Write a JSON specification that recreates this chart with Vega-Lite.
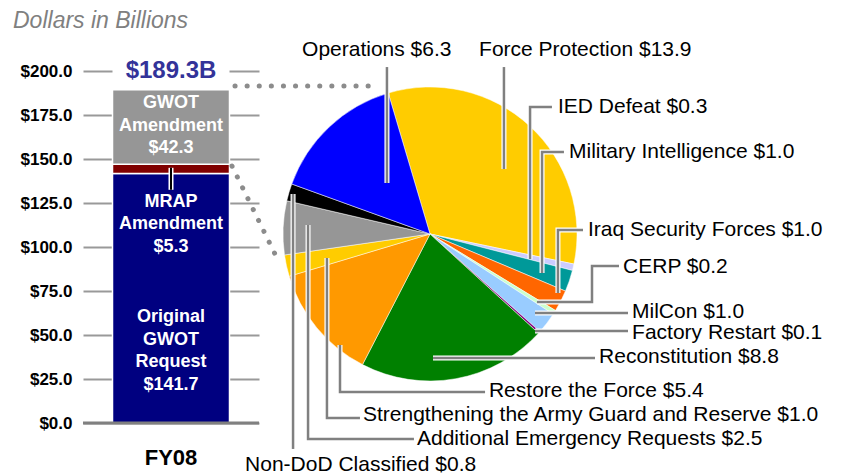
{
  "$schema": "https://vega.github.io/schema/vega-lite/v6.json",
  "padding": {"left": 13, "top": 9, "right": 5, "bottom": 5},
  "bounds": "flush",
  "spacing": 12,
  "background": "white",
  "resolve": {"scale": {"color": "independent"}},
  "config": {
    "font": "Liberation Sans",
    "view": {"stroke": null}
  },
  "title": {
    "text": "Dollars in Billions",
    "anchor": "start",
    "dx": -7,
    "offset": 6,
    "font": "Liberation Sans",
    "fontSize": 23,
    "fontStyle": "italic",
    "fontWeight": "normal",
    "color": "#808080"
  },
  "datasets": {
    "segments": [
      {"period": "FY08", "segment": "Original GWOT Request", "start": 0, "end": 141.7},
      {"period": "FY08", "segment": "MRAP Amendment", "start": 141.7, "end": 147.0},
      {"period": "FY08", "segment": "GWOT Amendment", "start": 147.0, "end": 189.3}
    ],
    "barLabels": [
      {"period": "FY08", "text": "GWOT\nAmendment\n$42.3", "at": 181.8},
      {"period": "FY08", "text": "MRAP\nAmendment\n$5.3", "at": 125.6},
      {"period": "FY08", "text": "Original\nGWOT\nRequest\n$141.7", "at": 60.2}
    ],
    "total": [
      {"period": "FY08", "text": "$189.3B", "at": 200, "maskFrom": 195.5, "maskTo": 204.5}
    ],
    "mrapTick": [
      {"period": "FY08", "from": 145, "to": 132.5}
    ],
    "slices": [
      {"idx": 1, "name": "Force Protection", "value": 13.9},
      {"idx": 2, "name": "IED Defeat", "value": 0.3},
      {"idx": 3, "name": "Military Intelligence", "value": 1.0},
      {"idx": 4, "name": "Iraq Security Forces", "value": 1.0},
      {"idx": 5, "name": "CERP", "value": 0.2},
      {"idx": 6, "name": "MilCon", "value": 1.0},
      {"idx": 7, "name": "Factory Restart", "value": 0.1},
      {"idx": 8, "name": "Reconstitution", "value": 8.8},
      {"idx": 9, "name": "Restore the Force", "value": 5.4},
      {"idx": 10, "name": "Strengthening the Army Guard and Reserve", "value": 1.0},
      {"idx": 11, "name": "Additional Emergency Requests", "value": 2.5},
      {"idx": 12, "name": "Non-DoD Classified", "value": 0.8},
      {"idx": 13, "name": "Operations", "value": 6.3}
    ],
    "pieLabels": [
      {"text": "Operations $6.3", "u": -85.3, "v": 122.7},
      {"text": "Force Protection $13.9", "u": 32.7, "v": 122.7},
      {"text": "IED Defeat $0.3", "u": 85.3, "v": 84.7},
      {"text": "Military Intelligence $1.0", "u": 92.7, "v": 54.7},
      {"text": "Iraq Security Forces $1.0", "u": 105.3, "v": 2.7},
      {"text": "CERP $0.2", "u": 128.7, "v": -22},
      {"text": "MilCon $1.0", "u": 134.7, "v": -52},
      {"text": "Factory Restart $0.1", "u": 134.7, "v": -66},
      {"text": "Reconstitution $8.8", "u": 112.7, "v": -82},
      {"text": "Restore the Force $5.4", "u": 39.3, "v": -104.7},
      {"text": "Strengthening the Army Guard and Reserve $1.0", "u": -44.7, "v": -120.7},
      {"text": "Additional Emergency Requests $2.5", "u": -8.7, "v": -136.7},
      {"text": "Non-DoD Classified $0.8", "u": -123.3, "v": -154}
    ],
    "leaders": [
      {"id": "Operations", "k": 1, "u": -28.7, "v": 111.3},
      {"id": "Operations", "k": 2, "u": -28.7, "v": 34},
      {"id": "Force Protection", "k": 1, "u": 49.3, "v": 111.3},
      {"id": "Force Protection", "k": 2, "u": 49.3, "v": 43.3},
      {"id": "IED Defeat", "k": 1, "u": 81.3, "v": 84.7},
      {"id": "IED Defeat", "k": 2, "u": 66.7, "v": 84.7},
      {"id": "IED Defeat", "k": 3, "u": 66.7, "v": -16.7},
      {"id": "Military Intelligence", "k": 1, "u": 89.3, "v": 54.7},
      {"id": "Military Intelligence", "k": 2, "u": 74.7, "v": 54.7},
      {"id": "Military Intelligence", "k": 3, "u": 74.7, "v": -26},
      {"id": "Iraq Security Forces", "k": 1, "u": 102, "v": 2.7},
      {"id": "Iraq Security Forces", "k": 2, "u": 85.3, "v": 2.7},
      {"id": "Iraq Security Forces", "k": 3, "u": 85.3, "v": -39.3},
      {"id": "CERP", "k": 1, "u": 126, "v": -21.3},
      {"id": "CERP", "k": 2, "u": 108, "v": -21.3},
      {"id": "CERP", "k": 3, "u": 108, "v": -45.3},
      {"id": "CERP", "k": 4, "u": 71.3, "v": -45.3},
      {"id": "MilCon", "k": 1, "u": 132, "v": -52.7},
      {"id": "MilCon", "k": 2, "u": 70, "v": -52.7},
      {"id": "Factory Restart", "k": 1, "u": 132, "v": -64.7},
      {"id": "Factory Restart", "k": 2, "u": 70, "v": -64.7},
      {"id": "Reconstitution", "k": 1, "u": 110, "v": -82.7},
      {"id": "Reconstitution", "k": 2, "u": 2, "v": -82.7},
      {"id": "Restore the Force", "k": 1, "u": 36.7, "v": -105.3},
      {"id": "Restore the Force", "k": 2, "u": -60, "v": -105.3},
      {"id": "Restore the Force", "k": 3, "u": -60, "v": -74},
      {"id": "Strengthening", "k": 1, "u": -46.7, "v": -122.7},
      {"id": "Strengthening", "k": 2, "u": -68.7, "v": -122.7},
      {"id": "Strengthening", "k": 3, "u": -68.7, "v": -16},
      {"id": "Additional Emergency", "k": 1, "u": -10.7, "v": -136.7},
      {"id": "Additional Emergency", "k": 2, "u": -81.3, "v": -136.7},
      {"id": "Additional Emergency", "k": 3, "u": -81.3, "v": 6},
      {"id": "Non-DoD Classified", "k": 1, "u": -91.3, "v": -143.3},
      {"id": "Non-DoD Classified", "k": 2, "u": -91.3, "v": 26.7}
    ],
    "connectors": [
      {"id": "top", "k": 1, "u": -130, "v": 98.7},
      {"id": "top", "k": 2, "u": -34, "v": 98.7},
      {"id": "bottom", "k": 1, "u": -132, "v": 45.3},
      {"id": "bottom", "k": 2, "u": -100.7, "v": -18.7}
    ]
  },
  "hconcat": [
    {
      "width": 176,
      "height": 352,
      "encoding": {
        "x": {
          "field": "period",
          "type": "nominal",
          "axis": {
            "title": null,
            "labelAngle": 0,
            "labelFontSize": 22,
            "labelFontWeight": "bold",
            "labelColor": "#000000",
            "labelPadding": 24,
            "ticks": false,
            "domain": false
          }
        }
      },
      "layer": [
        {
          "data": {"name": "segments"},
          "mark": {"type": "bar", "width": 117, "stroke": "white", "strokeWidth": 1.5},
          "encoding": {
            "y": {
              "field": "start",
              "type": "quantitative",
              "scale": {"domain": [0, 200], "nice": false},
              "axis": {
                "title": null,
                "values": [0, 25, 50, 75, 100, 125, 150, 175, 200],
                "format": "$.1f",
                "labelFontSize": 17,
                "labelFontWeight": "bold",
                "labelColor": "#000000",
                "labelPadding": 11,
                "ticks": false,
                "domain": false,
                "grid": true,
                "gridColor": "#999999",
                "gridWidth": 2
              }
            },
            "y2": {"field": "end"},
            "color": {
              "field": "segment",
              "type": "nominal",
              "scale": {
                "domain": ["Original GWOT Request", "MRAP Amendment", "GWOT Amendment"],
                "range": ["#000080", "#800000", "#969696"]
              },
              "legend": null
            }
          }
        },
        {
          "data": {"name": "total"},
          "mark": {"type": "bar", "width": 117, "color": "white"},
          "encoding": {
            "y": {"field": "maskFrom", "type": "quantitative"},
            "y2": {"field": "maskTo"}
          }
        },
        {
          "data": {"name": "total"},
          "mark": {"type": "text", "fontSize": 24, "fontWeight": "bold", "color": "#333399", "baseline": "middle"},
          "encoding": {
            "y": {"field": "at", "type": "quantitative"},
            "text": {"field": "text"}
          }
        },
        {
          "data": {"name": "barLabels"},
          "mark": {"type": "text", "fontSize": 18, "fontWeight": "bold", "color": "white", "baseline": "middle", "lineBreak": "\n", "lineHeight": 22.5},
          "encoding": {
            "y": {"field": "at", "type": "quantitative"},
            "text": {"field": "text"}
          }
        },
        {
          "data": {"name": "mrapTick"},
          "mark": {"type": "rule", "color": "white", "strokeWidth": 5},
          "encoding": {
            "y": {"field": "from", "type": "quantitative"},
            "y2": {"field": "to"}
          }
        },
        {
          "data": {"name": "mrapTick"},
          "mark": {"type": "rule", "color": "black", "strokeWidth": 2},
          "encoding": {
            "y": {"field": "from", "type": "quantitative"},
            "y2": {"field": "to"}
          }
        },
        {
          "data": {"values": [{"base": 0}]},
          "mark": {"type": "rule", "color": "#808080", "strokeWidth": 3},
          "encoding": {
            "x": null,
            "y": {"field": "base", "type": "quantitative"}
          }
        }
      ]
    },
    {
      "width": 570,
      "height": 352,
      "layer": [
        {
          "data": {"name": "connectors"},
          "mark": {"type": "line", "strokeDash": [0.1, 12], "strokeCap": "round", "strokeWidth": 5, "color": "#8c8c8c"},
          "encoding": {
            "x": {"field": "u", "type": "quantitative", "scale": {"domain": [-106, 274], "nice": false, "zero": false}, "axis": null},
            "y": {"field": "v", "type": "quantitative", "scale": {"domain": [-126, 108.6667], "nice": false, "zero": false}, "axis": null},
            "detail": {"field": "id"},
            "order": {"field": "k"}
          }
        },
        {
          "data": {"name": "slices"},
          "mark": {"type": "arc", "outerRadius": 147, "stroke": "white", "strokeWidth": 0.5},
          "encoding": {
            "x": {"datum": 0, "type": "quantitative"},
            "y": {"datum": 0, "type": "quantitative"},
            "theta": {"field": "value", "type": "quantitative", "stack": true, "scale": {"range": [-0.288, 5.9952]}},
            "order": {"field": "idx", "type": "quantitative"},
            "color": {
              "field": "name",
              "type": "nominal",
              "scale": {
                "domain": ["Force Protection", "IED Defeat", "Military Intelligence", "Iraq Security Forces", "CERP", "MilCon", "Factory Restart", "Reconstitution", "Restore the Force", "Strengthening the Army Guard and Reserve", "Additional Emergency Requests", "Non-DoD Classified", "Operations"],
                "range": ["#FFCC00", "#CCCCFF", "#009999", "#FF6600", "#CCFFCC", "#99CCFF", "#800080", "#008000", "#FF9900", "#FFCC00", "#969696", "#000000", "#0000FF"]
              },
              "legend": null
            }
          }
        },
        {
          "data": {"name": "leaders"},
          "mark": {"type": "line", "color": "white", "strokeWidth": 5},
          "encoding": {
            "x": {"field": "u", "type": "quantitative"},
            "y": {"field": "v", "type": "quantitative"},
            "detail": {"field": "id"},
            "order": {"field": "k"}
          }
        },
        {
          "data": {"name": "leaders"},
          "mark": {"type": "line", "color": "#808080", "strokeWidth": 2.5},
          "encoding": {
            "x": {"field": "u", "type": "quantitative"},
            "y": {"field": "v", "type": "quantitative"},
            "detail": {"field": "id"},
            "order": {"field": "k"}
          }
        },
        {
          "data": {"name": "pieLabels"},
          "mark": {"type": "text", "align": "left", "baseline": "middle", "fontSize": 21, "color": "#000000"},
          "encoding": {
            "x": {"field": "u", "type": "quantitative"},
            "y": {"field": "v", "type": "quantitative"},
            "text": {"field": "text"}
          }
        }
      ]
    }
  ]
}
